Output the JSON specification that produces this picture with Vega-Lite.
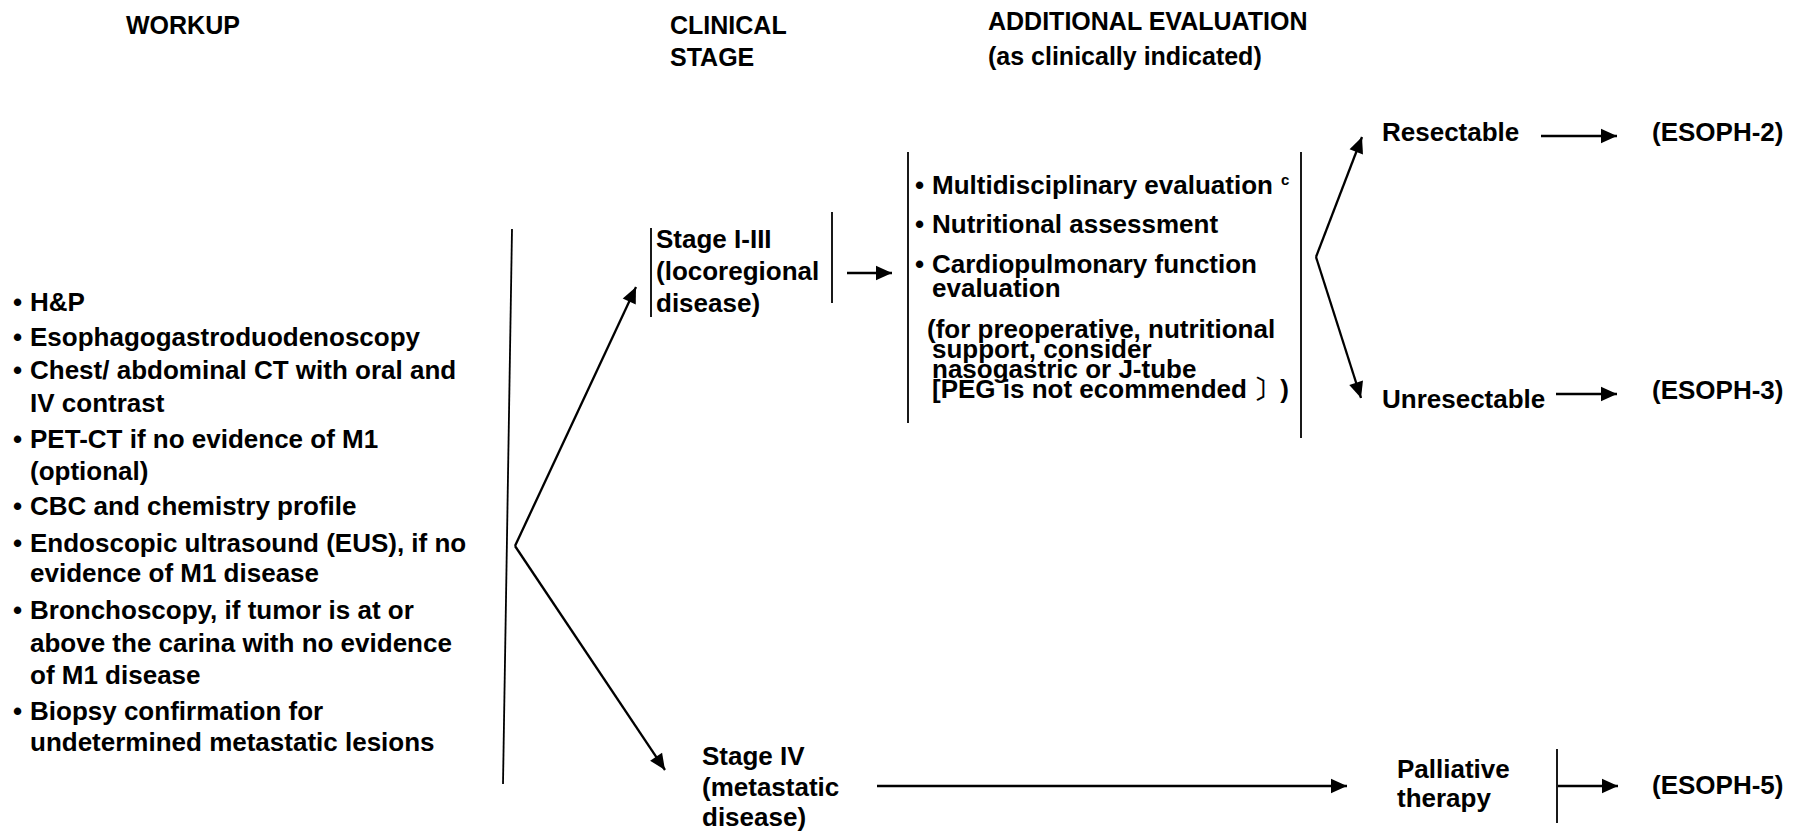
{
  "$schema": "https://vega.github.io/schema/vega-lite/v6.json",
  "width": 1795,
  "height": 832,
  "autosize": {"type": "fit", "contains": "padding"},
  "padding": 0,
  "background": "white",
  "config": {"view": {"stroke": null}},
  "datasets": {
    "headers": [
      {"x": 126, "y": 26, "text": "WORKUP"},
      {"x": 670, "y": 26, "text": "CLINICAL"},
      {"x": 670, "y": 58, "text": "STAGE"},
      {"x": 988, "y": 22, "text": "ADDITIONAL EVALUATION"},
      {"x": 988, "y": 57, "text": "(as clinically indicated)"}
    ],
    "labels": [
      {"x": 13, "y": 303, "text": "•"},
      {"x": 30, "y": 303, "text": "H&P"},
      {"x": 13, "y": 338, "text": "•"},
      {"x": 30, "y": 338, "text": "Esophagogastroduodenoscopy"},
      {"x": 13, "y": 371, "text": "•"},
      {"x": 30, "y": 371, "text": "Chest/ abdominal CT with oral and"},
      {"x": 30, "y": 404, "text": "IV contrast"},
      {"x": 13, "y": 440, "text": "•"},
      {"x": 30, "y": 440, "text": "PET-CT if no evidence of M1"},
      {"x": 30, "y": 472, "text": "(optional)"},
      {"x": 13, "y": 507, "text": "•"},
      {"x": 30, "y": 507, "text": "CBC and chemistry profile"},
      {"x": 13, "y": 544, "text": "•"},
      {"x": 30, "y": 544, "text": "Endoscopic ultrasound (EUS), if no"},
      {"x": 30, "y": 574, "text": "evidence of M1 disease"},
      {"x": 13, "y": 611, "text": "•"},
      {"x": 30, "y": 611, "text": "Bronchoscopy, if tumor is at or"},
      {"x": 30, "y": 644, "text": "above the carina with no evidence"},
      {"x": 30, "y": 676, "text": "of M1 disease"},
      {"x": 13, "y": 712, "text": "•"},
      {"x": 30, "y": 712, "text": "Biopsy confirmation for"},
      {"x": 30, "y": 743, "text": "undetermined metastatic lesions"},
      {"x": 656, "y": 240, "text": "Stage I-III"},
      {"x": 656, "y": 272, "text": "(locoregional"},
      {"x": 656, "y": 304, "text": "disease)"},
      {"x": 702, "y": 757, "text": "Stage IV"},
      {"x": 702, "y": 788, "text": "(metastatic"},
      {"x": 702, "y": 818, "text": "disease)"},
      {"x": 915, "y": 186, "text": "•"},
      {"x": 932, "y": 186, "text": "Multidisciplinary evaluation"},
      {"x": 915, "y": 225, "text": "•"},
      {"x": 932, "y": 225, "text": "Nutritional assessment"},
      {"x": 915, "y": 265, "text": "•"},
      {"x": 932, "y": 265, "text": "Cardiopulmonary function"},
      {"x": 932, "y": 289, "text": "evaluation"},
      {"x": 927, "y": 330, "text": "(for preoperative, nutritional"},
      {"x": 932, "y": 350, "text": "support, consider"},
      {"x": 932, "y": 370, "text": "nasogastric or J-tube"},
      {"x": 932, "y": 390, "text": "[PEG is not ecommended 〕)"},
      {"x": 1382, "y": 133, "text": "Resectable"},
      {"x": 1652, "y": 133, "text": "(ESOPH-2)"},
      {"x": 1382, "y": 400, "text": "Unresectable"},
      {"x": 1652, "y": 391, "text": "(ESOPH-3)"},
      {"x": 1397, "y": 770, "text": "Palliative"},
      {"x": 1397, "y": 799, "text": "therapy"},
      {"x": 1652, "y": 786, "text": "(ESOPH-5)"}
    ],
    "notes": [
      {"x": 1281, "y": 180, "text": "c"}
    ],
    "lines": [
      {"x": 512, "y": 229, "x2": 503, "y2": 784},
      {"x": 651, "y": 228, "x2": 651, "y2": 317},
      {"x": 832, "y": 212, "x2": 832, "y2": 303},
      {"x": 908, "y": 152, "x2": 908, "y2": 423},
      {"x": 1301, "y": 152, "x2": 1301, "y2": 438},
      {"x": 1557, "y": 749, "x2": 1557, "y2": 823}
    ],
    "arrows": [
      {"x": 515, "y": 546, "x2": 636, "y2": 287},
      {"x": 515, "y": 546, "x2": 665, "y2": 770},
      {"x": 847, "y": 273, "x2": 892, "y2": 273},
      {"x": 1316, "y": 257, "x2": 1362, "y2": 137},
      {"x": 1316, "y": 257, "x2": 1361, "y2": 398},
      {"x": 1541, "y": 136, "x2": 1617, "y2": 136},
      {"x": 1556, "y": 394, "x2": 1617, "y2": 394},
      {"x": 877, "y": 786, "x2": 1347, "y2": 786},
      {"x": 1558, "y": 786, "x2": 1618, "y2": 786}
    ]
  },
  "layer": [
    {
      "data": {"name": "lines"},
      "mark": {"type": "rule", "color": "black", "strokeWidth": 1.8},
      "encoding": {
        "x": {"field": "x", "type": "quantitative", "scale": {"domain": [0, 1795], "nice": false, "zero": false}, "axis": null},
        "y": {"field": "y", "type": "quantitative", "scale": {"domain": [0, 832], "reverse": true, "nice": false, "zero": false}, "axis": null},
        "x2": {"field": "x2"},
        "y2": {"field": "y2"}
      }
    },
    {
      "data": {"name": "arrows"},
      "mark": {"type": "rule", "color": "black", "strokeWidth": 2.3},
      "encoding": {
        "x": {"field": "x", "type": "quantitative", "axis": null},
        "y": {"field": "y", "type": "quantitative", "axis": null},
        "x2": {"field": "x2"},
        "y2": {"field": "y2"}
      }
    },
    {
      "data": {"name": "arrows"},
      "transform": [
        {"calculate": "atan2(datum.x2 - datum.x, datum.y - datum.y2) * 180 / PI", "as": "ang"}
      ],
      "mark": {"type": "point", "shape": "M0,0L-0.9,2L0.9,2Z", "filled": true, "size": 256, "color": "black", "opacity": 1, "strokeWidth": 0},
      "encoding": {
        "x": {"field": "x2", "type": "quantitative", "axis": null},
        "y": {"field": "y2", "type": "quantitative", "axis": null},
        "angle": {"field": "ang", "type": "quantitative", "scale": null}
      }
    },
    {
      "data": {"name": "headers"},
      "mark": {"type": "text", "align": "left", "baseline": "middle", "font": "Liberation Sans", "fontWeight": "bold", "fontSize": 25, "color": "black"},
      "encoding": {
        "x": {"field": "x", "type": "quantitative", "axis": null},
        "y": {"field": "y", "type": "quantitative", "axis": null},
        "text": {"field": "text"}
      }
    },
    {
      "data": {"name": "labels"},
      "mark": {"type": "text", "align": "left", "baseline": "middle", "font": "Liberation Sans", "fontWeight": "bold", "fontSize": 26, "color": "black"},
      "encoding": {
        "x": {"field": "x", "type": "quantitative", "axis": null},
        "y": {"field": "y", "type": "quantitative", "axis": null},
        "text": {"field": "text"}
      }
    },
    {
      "data": {"name": "notes"},
      "mark": {"type": "text", "align": "left", "baseline": "middle", "font": "Liberation Sans", "fontWeight": "bold", "fontSize": 15, "color": "black"},
      "encoding": {
        "x": {"field": "x", "type": "quantitative", "axis": null},
        "y": {"field": "y", "type": "quantitative", "axis": null},
        "text": {"field": "text"}
      }
    }
  ]
}
